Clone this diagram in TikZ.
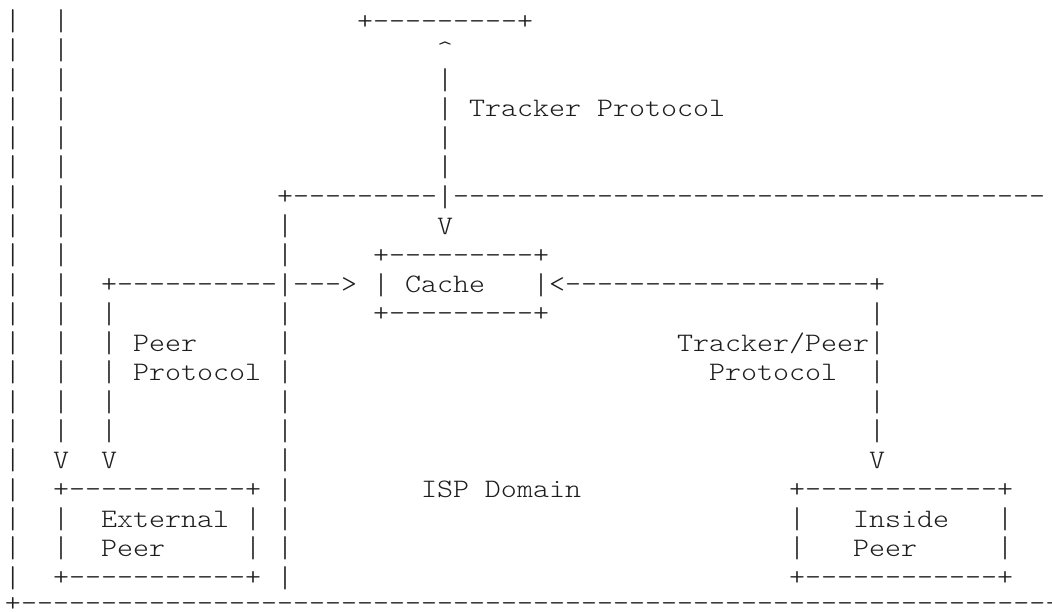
\documentclass[tikz,border=0pt]{standalone}
\usepackage{graphicx}
\usepackage{fontspec}
\newfontfamily\courfont{lmmonolt10-regular.otf}[FakeStretch=1.143]
\ExplSyntaxOn
\newcommand\dashrun[1]{\prg_replicate:nn{#1}{-}}
\ExplSyntaxOff
\newcommand\vb{\raisebox{-1.4pt}{\scalebox{1}[1.13]{|}}}
\definecolor{ink}{RGB}{30,30,30}
\tikzset{
  asc/.style={anchor=base west, inner sep=0pt, outer sep=0pt, text=ink,
    font=\courfont\fontsize{26.67}{30}\selectfont}
}
% place text at grid row #1, column #2
\newcommand\putcell[3]{\node[asc] (n#1-#2) at ({5+16*#2},{29.1+29.29*#1}) {#3};}
\begin{document}
\begin{tikzpicture}[x=1pt,y=-1pt]
\useasboundingbox (0,0) rectangle (1052,612);
\fill[white] (0,0) rectangle (1052,612);
\clip (0,0) rectangle (1052,612);
\frenchspacing
% vertical runs
\foreach \r in {0,...,19} {\putcell{\r}{0}{\vb}}
\foreach \r in {0,...,14} {\putcell{\r}{3}{\vb}}
\foreach \r in {2,...,5} {\putcell{\r}{27}{\vb}}
\foreach \r in {10,...,14} {\putcell{\r}{6}{\vb}}
\foreach \r in {7,8,10,11,12,13,14,15,16,17,18,19} {\putcell{\r}{17}{\vb}}
\foreach \r in {10,12,13,14} {\putcell{\r}{54}{\vb}}
\foreach \r in {17,18} {\putcell{\r}{3}{\vb}\putcell{\r}{15}{\vb}\putcell{\r}{49}{\vb}\putcell{\r}{62}{\vb}}
% row 0-3: tracker box and protocol
\putcell{0}{22}{+\dashrun{9}+}
\putcell{1}{27}{\textasciicircum}
\putcell{3}{29}{Tracker Protocol}
% row 6: ISP domain boundary
\putcell{6}{17}{+\dashrun{9}\vb\dashrun{37}}
\putcell{7}{27}{V}
% cache box
\putcell{8}{23}{+\dashrun{9}+}
\putcell{9}{6}{+\dashrun{10}\vb---\textgreater}
\putcell{9}{23}{\vb}
\putcell{9}{25}{Cache}
\putcell{9}{33}{\vb\textless\dashrun{19}+}
\putcell{10}{23}{+\dashrun{9}+}
% protocol labels
\putcell{11}{8}{Peer}
\putcell{12}{8}{Protocol}
\putcell{11}{42}{Tracker/Peer\vb}
\putcell{12}{44}{Protocol}
% arrowheads
\putcell{15}{3}{V}
\putcell{15}{6}{V}
\putcell{15}{54}{V}
% peer boxes
\putcell{16}{3}{+\dashrun{11}+}
\putcell{16}{26}{ISP Domain}
\putcell{16}{49}{+\dashrun{12}+}
\putcell{17}{6}{External}
\putcell{17}{53}{Inside}
\putcell{18}{6}{Peer}
\putcell{18}{53}{Peer}
\putcell{19}{3}{+\dashrun{11}+}
\putcell{19}{49}{+\dashrun{12}+}
% bottom boundary
\node[asc, text depth=0pt] (bottom) at (5,611.5) {+\dashrun{65}};
\end{tikzpicture}
\end{document}
